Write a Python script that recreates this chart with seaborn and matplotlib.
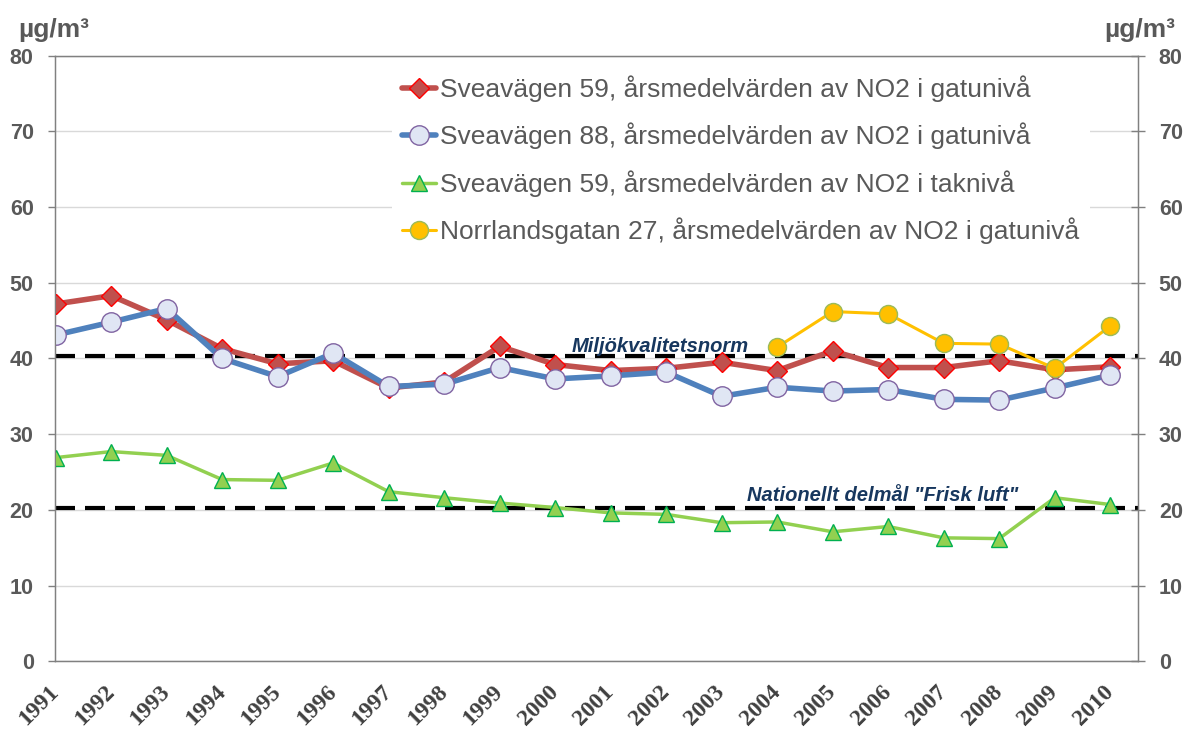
import numpy as np
import pandas as pd
import matplotlib.pyplot as plt
import seaborn as sns

# values (µg/m³)
years = list(range(1991, 2011))
svea59_gata = [47.2, 48.3, 45.1, 41.3, 39.3, 39.7, 36.1, 36.9, 41.6, 39.2,
               38.4, 38.7, 39.5, 38.4, 41.0, 38.8, 38.8, 39.7, 38.5, 38.9]
svea88_gata = [43.1, 44.8, 46.6, 40.0, 37.6, 40.7, 36.3, 36.6, 38.8, 37.3,
               37.7, 38.2, 35.0, 36.2, 35.7, 35.9, 34.6, 34.5, 36.1, 37.8]
svea59_tak = [26.9, 27.7, 27.2, 24.0, 23.9, 26.2, 22.4, 21.6, 20.9, 20.3,
              19.6, 19.4, 18.3, 18.4, 17.1, 17.8, 16.3, 16.2, 21.6, 20.7]
norr_years = list(range(2004, 2011))
norr27_gata = [41.5, 46.2, 45.9, 42.0, 41.9, 38.7, 44.3]

series_labels = [
    "Sveavägen 59, årsmedelvärden av NO2 i gatunivå",
    "Sveavägen 88, årsmedelvärden av NO2 i gatunivå",
    "Sveavägen 59, årsmedelvärden av NO2 i taknivå",
    "Norrlandsgatan 27, årsmedelvärden av NO2 i gatunivå",
]
miljonorm = 40.3
delmal = 20.2
y_ticks = [0, 10, 20, 30, 40, 50, 60, 70, 80]

sns.set_style("white")
plt.rcParams["font.family"] = ["Liberation Sans", "DejaVu Sans"]

grey = "#595959"
fig = plt.figure(figsize=(11.86, 7.29), dpi=100)
ax = fig.add_axes([0.046, 0.093, 0.9135, 0.8305])

line_kw = dict(ax=ax, markeredgewidth=1.0)
sns.lineplot(x=years, y=svea59_gata, color="#C0504D", lw=4, marker="D",
             markersize=10, markerfacecolor="#C0504D", markeredgecolor="#FF0000",
             label=series_labels[0], zorder=3, **line_kw)
sns.lineplot(x=years, y=svea88_gata, color="#4F81BD", lw=4, marker="o",
             markersize=14, markerfacecolor="#E0E6F4", markeredgecolor="#8064A2",
             label=series_labels[1], zorder=4, **line_kw)
sns.lineplot(x=years, y=svea59_tak, color="#92D050", lw=2.5, marker="^",
             markersize=12, markerfacecolor="#92D050", markeredgecolor="#00B050",
             label=series_labels[2], zorder=4, **line_kw)
sns.lineplot(x=norr_years, y=norr27_gata, color="#FFC000", lw=2.2, marker="o",
             markersize=13, markerfacecolor="#FFC000", markeredgecolor="#9BBB59",
             label=series_labels[3], zorder=5, **line_kw)

# reference levels
for lvl in (miljonorm, delmal):
    ax.axhline(lvl, color="black", lw=3, dashes=(4.8, 2.4), zorder=2)
ax.text(2001.9, 41.6, "Miljökvalitetsnorm", ha="center", va="center",
        fontsize=14.5, fontweight="bold", style="italic", color="#17375E")
ax.text(2005.9, 21.9, 'Nationellt delmål "Frisk luft"', ha="center", va="center",
        fontsize=14.5, fontweight="bold", style="italic", color="#17375E")

ax.set_xlim(1990.98, 2010.5)
ax.set_ylim(0, 80)
ax.set_yticks(y_ticks)
ax.set_xticks(years)
ax.set_xticklabels([str(y) for y in years], rotation=45, ha="right", va="center",
                   rotation_mode="anchor", fontsize=17, fontweight="bold",
                   family="Liberation Serif", color="#404040")
ax.grid(axis="y", color="#D9D9D9", lw=1)
ax.set_axisbelow(True)
ax.tick_params(axis="y", direction="out", length=5, width=1, color="#808080",
               pad=10, labelsize=15.5, labelcolor=grey)
ax.tick_params(axis="x", direction="out", length=5, width=1, color="#808080", pad=15)
for lab in ax.get_yticklabels():
    lab.set_fontweight("bold")
for side in ["left", "right", "bottom", "top"]:
    ax.spines[side].set_color("#808080")
    ax.spines[side].set_linewidth(1)

ax2 = ax.twinx()
ax2.set_ylim(0, 80)
ax2.set_yticks(y_ticks)
ax2.tick_params(axis="y", direction="inout", length=10, width=1, color="#808080",
                pad=10, labelsize=15.5, labelcolor=grey)
for lab in ax2.get_yticklabels():
    lab.set_fontweight("bold")
for side in ["left", "right", "bottom", "top"]:
    ax2.spines[side].set_color("#808080")
ax2.grid(False)

fig.text(0.015, 0.959, "µg/m³", fontsize=19, fontweight="bold", color=grey,
         ha="left", va="center")
fig.text(0.991, 0.959, "µg/m³", fontsize=19, fontweight="bold", color=grey,
         ha="right", va="center")

ax.set_xlabel("")
ax.set_ylabel("")
leg = ax.legend(loc="upper left", bbox_to_anchor=(0.319, 0.929),
                bbox_transform=fig.transFigure, fontsize=19, frameon=True,
                facecolor="white", edgecolor="none", framealpha=1,
                handlelength=1.3, handletextpad=0.15, labelspacing=0.78,
                borderpad=0.4, markerscale=1.0)
for t in leg.get_texts():
    t.set_color(grey)
leg.set_zorder(10)

fig.savefig("out.png", dpi=100)
